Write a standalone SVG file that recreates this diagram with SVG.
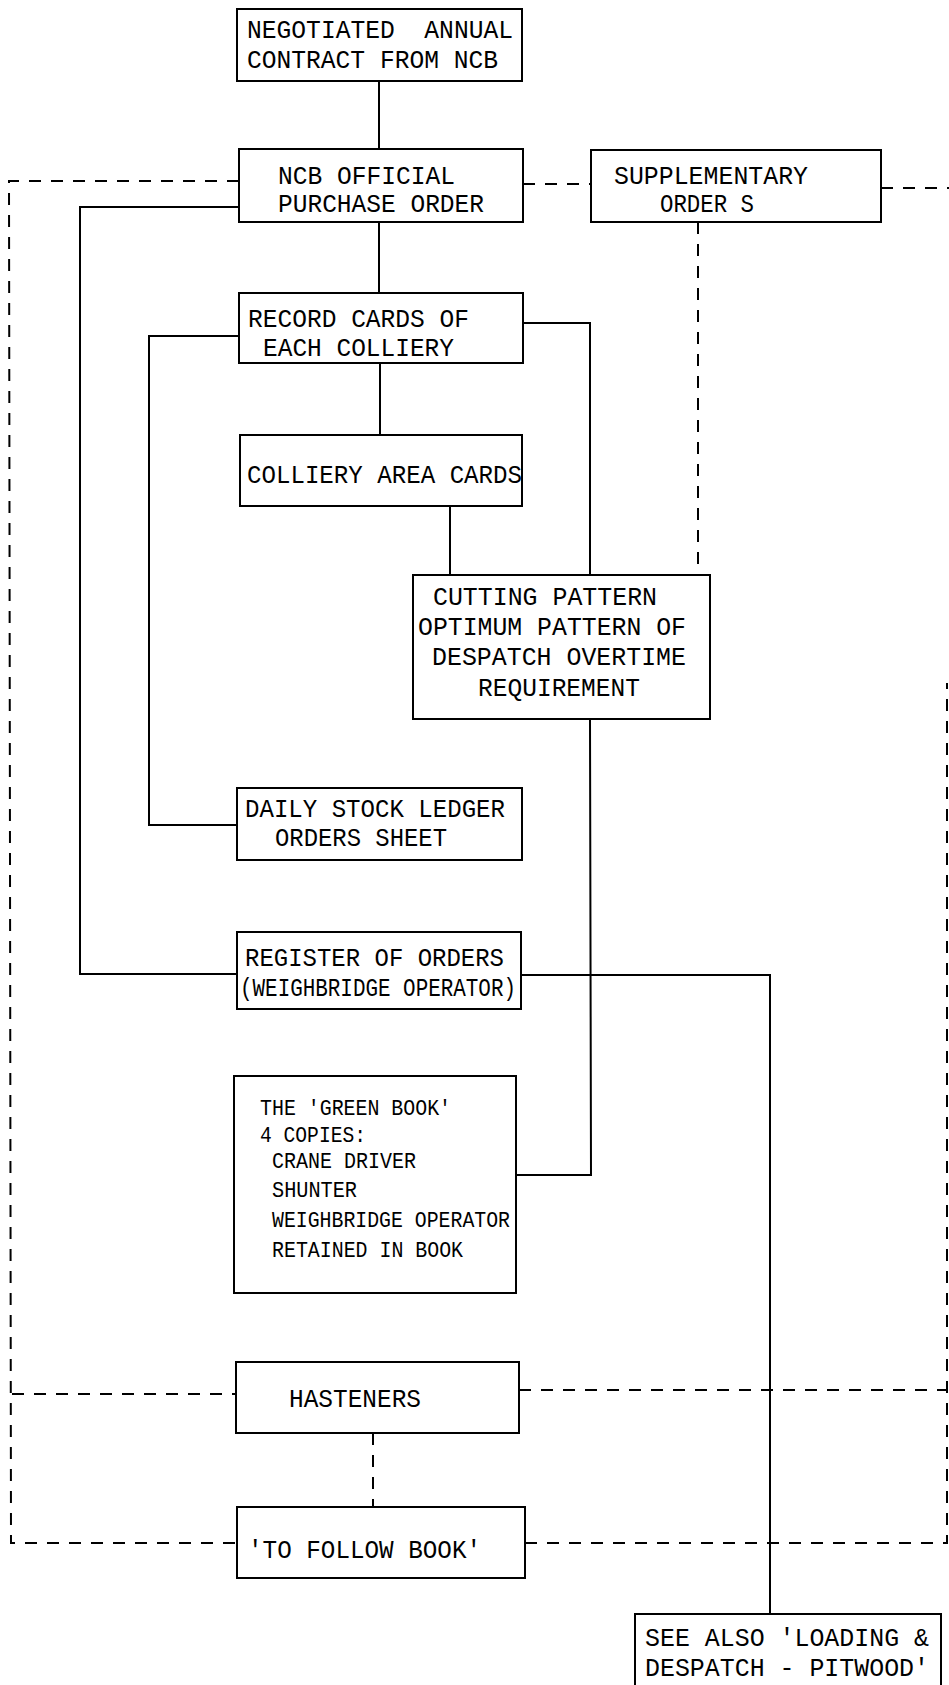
<svg xmlns="http://www.w3.org/2000/svg" width="949" height="1685" viewBox="0 0 949 1685">
<style>
.box{fill:#fff;stroke:#000;stroke-width:2}
.ln{fill:none;stroke:#000;stroke-width:2}
.dl{fill:none;stroke:#000;stroke-width:2;stroke-dasharray:12 10}
text{font-family:"Liberation Mono","DejaVu Sans Mono",monospace;font-size:26px;fill:#000;white-space:pre}
.sm{font-size:22px}
</style>
<rect width="949" height="1685" fill="#fff"/>
<g id="connectors">
<path class="ln" d="M379,81V149"/>
<path class="ln" d="M379,222V293"/>
<path class="ln" d="M239,207H80V974H237"/>
<path class="ln" d="M239,336H149V825H237"/>
<path class="ln" d="M523,323H590V575"/>
<path class="ln" d="M380,363V435"/>
<path class="ln" d="M450,506V575"/>
<path class="ln" d="M590,719L591,1175H516"/>
<path class="ln" d="M521,975H770V1614"/>
<path class="dl" d="M523,184H591"/>
<path class="dl" d="M239,181H9L11,1543H237"/>
<path class="dl" d="M881,188H949"/>
<path class="dl" d="M698,222V575"/>
<path class="dl" d="M12,1394H236"/>
<path class="dl" d="M519,1390H947"/>
<path class="dl" d="M373,1433V1507"/>
<path class="dl" d="M525,1543H947V683"/>
</g>
<g id="n-contract">
<rect class="box" x="237" y="9" width="285" height="72"/>
<text x="247" y="38" textLength="266" lengthAdjust="spacingAndGlyphs">NEGOTIATED  ANNUAL</text>
<text x="247" y="68" textLength="251" lengthAdjust="spacingAndGlyphs">CONTRACT FROM NCB</text>
</g>
<g id="n-purchase">
<rect class="box" x="239" y="149" width="284" height="73"/>
<text x="278" y="184" textLength="177" lengthAdjust="spacingAndGlyphs">NCB OFFICIAL</text>
<text x="278" y="212" textLength="206" lengthAdjust="spacingAndGlyphs">PURCHASE ORDER</text>
</g>
<g id="n-supp">
<rect class="box" x="591" y="150" width="290" height="72"/>
<text x="614" y="184" textLength="194" lengthAdjust="spacingAndGlyphs">SUPPLEMENTARY</text>
<text x="660" y="212" textLength="94" lengthAdjust="spacingAndGlyphs">ORDER S</text>
</g>
<g id="n-record">
<rect class="box" x="239" y="293" width="284" height="70"/>
<text x="248" y="327" textLength="221" lengthAdjust="spacingAndGlyphs">RECORD CARDS OF</text>
<text x="263" y="356" textLength="191" lengthAdjust="spacingAndGlyphs">EACH COLLIERY</text>
</g>
<g id="n-area">
<rect class="box" x="240" y="435" width="282" height="71"/>
<text x="247" y="483" textLength="275" lengthAdjust="spacingAndGlyphs">COLLIERY AREA CARDS</text>
</g>
<g id="n-cutting">
<rect class="box" x="413" y="575" width="297" height="144"/>
<text x="433" y="605" textLength="224" lengthAdjust="spacingAndGlyphs">CUTTING PATTERN</text>
<text x="418" y="635" textLength="268" lengthAdjust="spacingAndGlyphs">OPTIMUM PATTERN OF</text>
<text x="432" y="665" textLength="254" lengthAdjust="spacingAndGlyphs">DESPATCH OVERTIME</text>
<text x="478" y="696" textLength="162" lengthAdjust="spacingAndGlyphs">REQUIREMENT</text>
</g>
<g id="n-daily">
<rect class="box" x="237" y="788" width="285" height="72"/>
<text x="245" y="817" textLength="260" lengthAdjust="spacingAndGlyphs">DAILY STOCK LEDGER</text>
<text x="275" y="846" textLength="172" lengthAdjust="spacingAndGlyphs">ORDERS SHEET</text>
</g>
<g id="n-register">
<rect class="box" x="237" y="932" width="284" height="77"/>
<text x="245" y="966" textLength="259" lengthAdjust="spacingAndGlyphs">REGISTER OF ORDERS</text>
<text x="240" y="996" textLength="276" lengthAdjust="spacingAndGlyphs">(WEIGHBRIDGE OPERATOR)</text>
</g>
<g id="n-green">
<rect class="box" x="234" y="1076" width="282" height="217"/>
<text class="sm" x="260" y="1115" textLength="191" lengthAdjust="spacingAndGlyphs">THE 'GREEN BOOK'</text>
<text class="sm" x="260" y="1142" textLength="106" lengthAdjust="spacingAndGlyphs">4 COPIES:</text>
<text class="sm" x="272" y="1168" textLength="144" lengthAdjust="spacingAndGlyphs">CRANE DRIVER</text>
<text class="sm" x="272" y="1197" textLength="85" lengthAdjust="spacingAndGlyphs">SHUNTER</text>
<text class="sm" x="272" y="1227" textLength="238" lengthAdjust="spacingAndGlyphs">WEIGHBRIDGE OPERATOR</text>
<text class="sm" x="272" y="1257" textLength="191" lengthAdjust="spacingAndGlyphs">RETAINED IN BOOK</text>
</g>
<g id="n-hasteners">
<rect class="box" x="236" y="1362" width="283" height="71"/>
<text x="289" y="1407" textLength="132" lengthAdjust="spacingAndGlyphs">HASTENERS</text>
</g>
<g id="n-follow">
<rect class="box" x="237" y="1507" width="288" height="71"/>
<text x="248" y="1558" textLength="233" lengthAdjust="spacingAndGlyphs">'TO FOLLOW BOOK'</text>
</g>
<g id="n-seealso">
<rect class="box" x="635" y="1614" width="306" height="90"/>
<text x="645" y="1646" textLength="284" lengthAdjust="spacingAndGlyphs">SEE ALSO 'LOADING &amp;</text>
<text x="645" y="1676" textLength="284" lengthAdjust="spacingAndGlyphs">DESPATCH - PITWOOD'</text>
</g>
</svg>
